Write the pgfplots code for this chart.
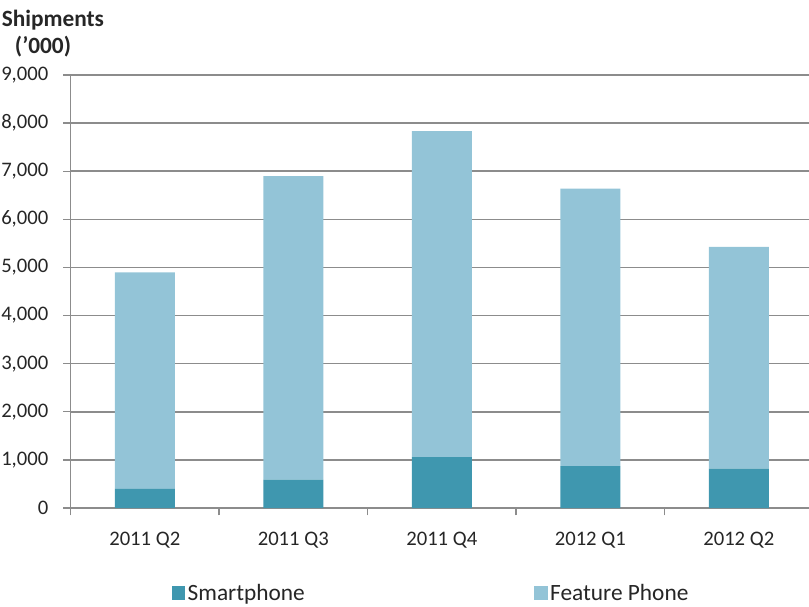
\documentclass[border=0pt]{standalone}
\usepackage{pgfplots}
\pgfplotsset{compat=1.18}
\usepackage{fontspec}
\setmainfont{Carlito}
\definecolor{smart}{HTML}{3F97AF}
\definecolor{feature}{HTML}{93C4D7}
\definecolor{gridgray}{HTML}{8C8C8C}

\begin{document}
\begin{tikzpicture}[x=0.75pt,y=0.75pt]
\begin{axis}[
    at={(0,0)}, anchor=south west,
    scale only axis,
    width=556.9pt, height=324.75pt,
    ybar stacked, bar width=45pt,
    xmin=-0.5, xmax=4.5, ymin=0, ymax=9000,
    xtick={0,1,2,3,4},
    xticklabels={2011 Q2,2011 Q3,2011 Q4,2012 Q1,2012 Q2},
    minor xtick={-0.5,0.5,1.5,2.5,3.5,4.5},
    ytick={0,1000,...,9000},
    /pgf/number format/1000 sep={,},
    /pgf/number format/assume math mode=true,
    tick align=outside,
    major tick length=5.6pt, minor tick length=5.6pt,
    major x tick style={draw=none},
    tick style={draw=gridgray, line width=1pt},
    axis x line*=bottom, axis y line*=left,
    axis line style={draw=gridgray, line width=1.1pt, -},
    ymajorgrids, grid style={draw=gridgray, line width=1.1pt},
    xticklabel style={font=\fontsize{15.5}{18}\selectfont, text=black!85, yshift=-9pt},
    yticklabel style={font=\fontsize{15.5}{18}\selectfont, text=black!85, xshift=-7.5pt},
    legend columns=2,
    legend style={at={(0.486,0)}, anchor=center, yshift=-63.75pt, draw=none,
        font=\fontsize{17.5}{20}\selectfont, text=black!85,
        /tikz/every even column/.append style={column sep=170pt}},
]
\addplot[fill=smart, draw=none,
    legend image code/.code={\fill[smart] (0pt,-5pt) rectangle (10pt,5pt);}]
    coordinates {(0,400) (1,590) (2,1060) (3,870) (4,820)};
\addlegendentry{Smartphone}
\addplot[fill=feature, draw=none,
    legend image code/.code={\fill[feature] (0pt,-5pt) rectangle (10pt,5pt);}]
    coordinates {(0,4500) (1,6310) (2,6775) (3,5770) (4,4610)};
\addlegendentry{Feature Phone}
\end{axis}
\node[font=\fontsize{17.5}{20}\selectfont\bfseries, text=black!85, anchor=west, inner sep=0pt] at (-69,488) {Shipments};
\node[font=\fontsize{17.5}{20}\selectfont\bfseries, text=black!85] at (-27.5,461) {('000)};
\pgfresetboundingbox
\path[use as bounding box] (-70.5,-98) rectangle (738.5,508);
\end{tikzpicture}
\end{document}
